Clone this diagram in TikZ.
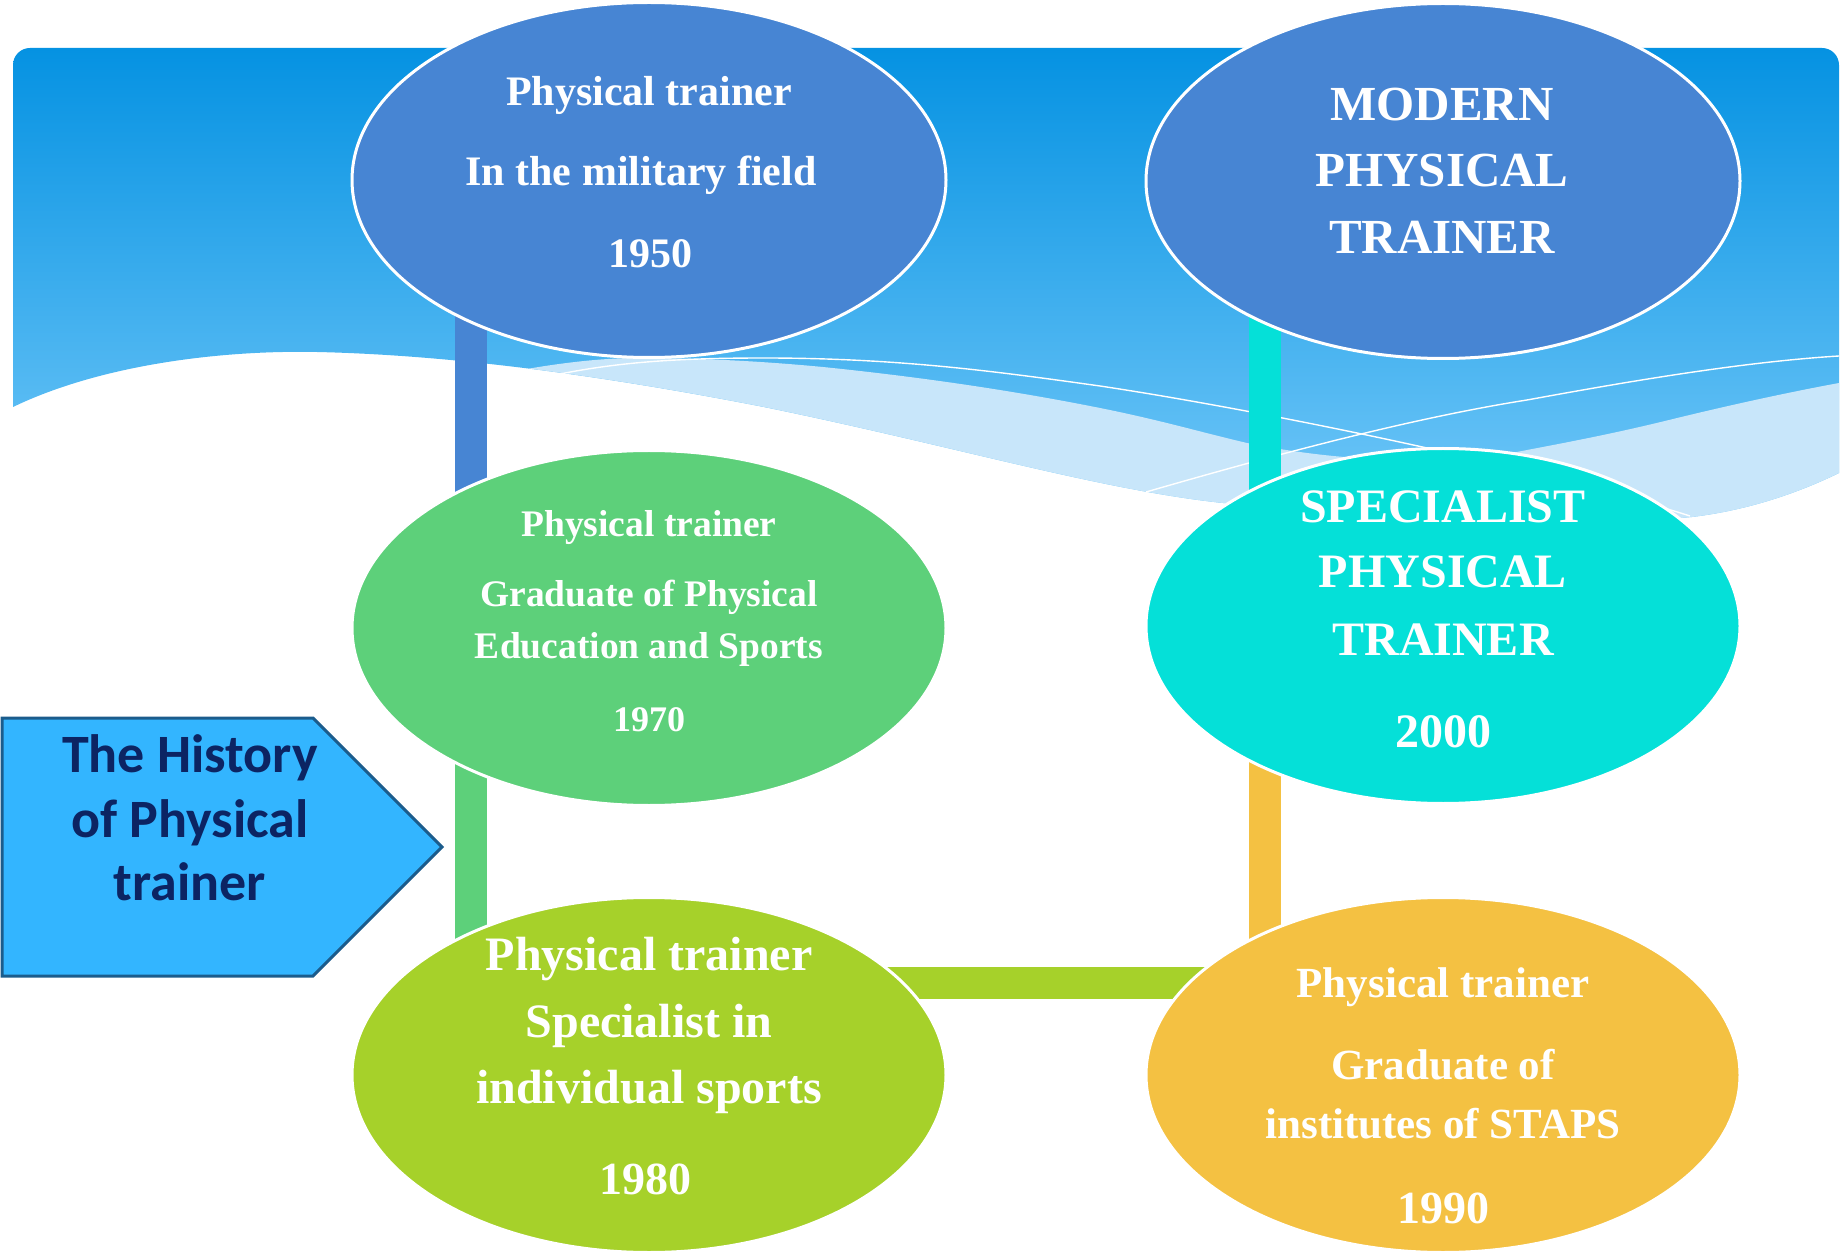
\documentclass[tikz,border=0pt]{standalone}
\usepackage{fontspec}
\setmainfont{Liberation Serif}
\newfontfamily\carlito{Carlito}
\usetikzlibrary{shapes.geometric}
\definecolor{ellblue}{HTML}{4785D3}
\definecolor{ellgreen}{HTML}{5DD07A}
\definecolor{ellcyan}{HTML}{05E0D8}
\definecolor{elllime}{HTML}{A6D12A}
\definecolor{ellorange}{HTML}{F4C142}
\definecolor{arrfill}{HTML}{33B5FF}
\definecolor{arrdraw}{HTML}{1B5C8C}
\definecolor{arrtext}{HTML}{0C2463}
\definecolor{bantop}{HTML}{0592E2}
\definecolor{banbot}{HTML}{74C9F9}
\definecolor{lightband}{HTML}{C8E6FA}
\newcommand{\fsz}[1]{\fontsize{#1pt}{1.2\dimexpr#1pt\relax}\selectfont}
\pgfdeclarelayer{bottom}
\pgfdeclarelayer{conn}
\pgfsetlayers{bottom,conn,main}
\begin{document}
\begin{tikzpicture}[x=0.5pt,y=-0.5pt,
  ell/.style={ellipse, draw=white, line width=1.5pt, minimum width=297pt, minimum height=177.5pt, inner sep=0pt},
  txt/.style={text=white, anchor=base, inner sep=0pt},
  bar/.style={line width=16pt},
  thinw/.style={draw=white, line width=0.7pt}]
\useasboundingbox (0,0) rectangle (1843,1251);

\begin{pgfonlayer}{bottom}
  % banner with gradient
  \shade[top color=bantop, bottom color=banbot]
    (13,407) -- (13,65) .. controls (13,55.6) and (20.6,48) .. (30,48) -- (1822,48)
    .. controls (1831.4,48) and (1839,55.6) .. (1839,65) -- (1839,473)
    .. controls (1800,492) and (1750,510) .. (1692,517)
    .. controls (1550,530) and (1350,518) .. (1223,503)
    .. controls (1100,490) and (950,445) .. (764,407)
    .. controls (682,391) and (603.5,378) .. (528.9,368.6)
    .. controls (454.25,359.25) and (383.5,353.5) .. (317,352)
    .. controls (220,350) and (100,365) .. (13,407) -- cycle;
  % light band
  \fill[lightband]
    (528.9,368.6) .. controls (580,360) and (620,357) .. (658,358)
    .. controls (720,359) and (770,362) .. (823,367)
    .. controls (930,378) and (1020,392) .. (1100,408)
    .. controls (1160,420) and (1200,432) .. (1247,443)
    .. controls (1330,460) and (1440,468) .. (1527,450)
    .. controls (1580,440) and (1620,432) .. (1669,420)
    .. controls (1730,405) and (1790,392) .. (1839,383)
    -- (1839,473)
    .. controls (1800,492) and (1750,510) .. (1692,517)
    .. controls (1550,530) and (1350,518) .. (1223,503)
    .. controls (1100,490) and (950,445) .. (764,407)
    .. controls (682,391) and (603.5,378) .. (528.9,368.6) -- cycle;
  % thin white lines
  \draw[thinw] (560,374) .. controls (620,362) and (680,358) .. (764,358)
    .. controls (900,358) and (1000,372) .. (1100,386)
    .. controls (1180,398) and (1300,420) .. (1427,448)
    .. controls (1550,475) and (1640,500) .. (1690,516);
  \draw[thinw] (1146,492) .. controls (1250,462) and (1400,420) .. (1527,400)
    .. controls (1620,383) and (1740,362) .. (1839,356);
\end{pgfonlayer}

% ellipses
\node[ell, fill=ellblue]   (e1950) at (649,180) {};
\node[ell, fill=ellblue]   (emod)  at (1443,181) {};
\node[ell, fill=ellgreen]  (e1970) at (649,628) {};
\node[ell, fill=ellcyan]   (e2000) at (1443,626) {};
\node[ell, fill=elllime]   (e1980) at (649,1075) {};
\node[ell, fill=ellorange] (e1990) at (1443,1075) {};

% connectors
\begin{pgfonlayer}{conn}
  \draw[bar, ellblue]   ([xshift=-89pt]e1950.center) -- ([xshift=-89pt]e1970.center);
  \draw[bar, ellgreen]  ([xshift=-89pt]e1970.center) -- ([xshift=-89pt]e1980.center);
  \draw[bar, elllime]   ([yshift=46pt]e1980.center) -- ([yshift=46pt]e1990.center);
  \draw[bar, ellorange] ([xshift=-89pt]e1990.center) -- ([xshift=-89pt]e2000.center);
  \draw[bar, ellcyan]   ([xshift=-89pt]e2000.center) -- ([xshift=-89pt]emod.center);
\end{pgfonlayer}

% texts 1950
\node[txt, font=\bfseries\fsz{21}] (t1a) at (649,106) {Physical trainer};
\node[txt, font=\bfseries\fsz{21}] (t1b) at (641,186) {In the military field};
\node[txt, font=\bfseries\fsz{21}] (t1c) at (650,268) {1950};
% modern
\node[txt, font=\bfseries\fsz{24.5}] (t2a) at (1442,121) {MODERN};
\node[txt, font=\bfseries\fsz{24.5}] (t2b) at (1442,187) {PHYSICAL};
\node[txt, font=\bfseries\fsz{24.5}] (t2c) at (1442,254) {TRAINER};
% 1970
\node[txt, font=\bfseries\fsz{18.75}] (t3a) at (649,537) {Physical trainer};
\node[txt, font=\bfseries\fsz{18.75}] (t3b) at (649,607) {Graduate of Physical};
\node[txt, font=\bfseries\fsz{18.75}] (t3c) at (649,658) {Education and Sports};
\node[txt, font=\bfseries\fsz{18}] (t3d) at (649,731) {1970};
% 2000
\node[txt, font=\bfseries\fsz{24}] (t4a) at (1443,523) {SPECIALIST};
\node[txt, font=\bfseries\fsz{24}] (t4b) at (1443,588) {PHYSICAL};
\node[txt, font=\bfseries\fsz{24}] (t4c) at (1443,655) {TRAINER};
\node[txt, font=\bfseries\fsz{24}] (t4d) at (1443,747) {2000};
% 1980
\node[txt, font=\bfseries\fsz{24}] (t5a) at (649,970) {Physical trainer};
\node[txt, font=\bfseries\fsz{24}] (t5b) at (649,1037) {Specialist in};
\node[txt, font=\bfseries\fsz{24}] (t5c) at (649,1103) {individual sports};
\node[txt, font=\bfseries\fsz{23}] (t5d) at (645,1194) {1980};
% 1990
\node[txt, font=\bfseries\fsz{21.5}] (t6a) at (1443,997) {Physical trainer};
\node[txt, font=\bfseries\fsz{21.5}] (t6b) at (1443,1079) {Graduate of};
\node[txt, font=\bfseries\fsz{21.5}] (t6c) at (1443,1138) {institutes of STAPS};
\node[txt, font=\bfseries\fsz{23}] (t6d) at (1443,1223) {1990};

% pentagon label
\draw[fill=arrfill, draw=arrdraw, line width=1.5pt, line join=miter]
  (2,718) -- (313,718) -- (442,847) -- (313,976) -- (2,976) -- cycle;
\node[txt, text=arrtext, font=\carlito\bfseries\fsz{27}] (h1) at (190,772) {The History};
\node[txt, text=arrtext, font=\carlito\bfseries\fsz{27}] (h2) at (190,837) {of Physical};
\node[txt, text=arrtext, font=\carlito\bfseries\fsz{27}] (h3) at (190,900) {trainer};
\end{tikzpicture}
\end{document}
